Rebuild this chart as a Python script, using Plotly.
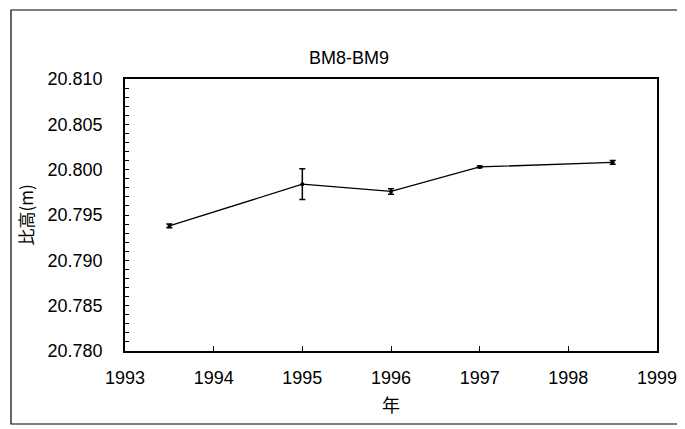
import plotly.graph_objects as go

years = [1993.5, 1995.0, 1996.0, 1997.0, 1998.5]
heights = [20.7938, 20.7984, 20.7976, 20.8003, 20.8008]
errors = [0.0002, 0.0017, 0.0003, 0.0001, 0.0002]
x_ticks = [1993, 1994, 1995, 1996, 1997, 1998, 1999]
y_ticks = [20.780, 20.785, 20.790, 20.795, 20.800, 20.805, 20.810]

num_font = "Liberation Sans, Arial, sans-serif"
cjk_font = "Noto Sans CJK JP, sans-serif"

# page is rendered with an 8px body margin; figure coords = page coords - 8
L, R, T, B = 117, 649, 71, 343
W, H = 685, 429
pw, ph = R - L, B - T

fig = go.Figure()
fig.add_trace(go.Scatter(
    x=years, y=heights, mode="lines+markers",
    line=dict(color="black", width=1.3),
    marker=dict(color="black", size=4),
    error_y=dict(type="data", array=errors, color="black", thickness=1.5, width=3),
    showlegend=False,
))

fig.update_layout(
    width=W, height=H,
    margin=dict(l=L, r=W - R, t=T, b=H - B),
    paper_bgcolor="white", plot_bgcolor="white",
    title=dict(text="BM8-BM9", x=(341 - L) / pw, xref="paper", xanchor="center",
               y=1 - 50 / H, yanchor="middle",
               font=dict(family=num_font, size=18, color="black")),
    xaxis=dict(
        range=[1993, 1999], tickvals=x_ticks, ticktext=[str(v) for v in x_ticks],
        showline=True, linecolor="black", linewidth=1.5, mirror=True,
        ticks="inside", ticklen=5, tickcolor="black", showgrid=False, zeroline=False,
        tickfont=dict(family=num_font, size=18, color="black"),
        ticklabelstandoff=10,
        title=dict(text="年", standoff=12, font=dict(family=cjk_font, size=18, color="black")),
    ),
    yaxis=dict(
        range=[20.780, 20.810], tickvals=y_ticks, ticktext=[f"{v:.3f}" for v in y_ticks],
        showline=True, linecolor="black", linewidth=1.5, mirror=True,
        ticks="inside", ticklen=4, tickcolor="black", showgrid=False, zeroline=False,
        minor=dict(dtick=0.001, ticks="inside", ticklen=4, tickcolor="black", showgrid=False),
        tickfont=dict(family=num_font, size=18, color="black"),
        ticklabelstandoff=17,
        title=dict(text="比高(m)", standoff=10, font=dict(family=cjk_font, size=17, color="black")),
    ),
    shapes=[dict(type="rect", xref="paper", yref="paper",
                 x0=(3 - L) / pw, x1=(675 - L) / pw,
                 y0=(B - 416) / ph, y1=(B - 2) / ph,
                 line=dict(color="black", width=1.2))],
)

fig.write_html("out.html")
